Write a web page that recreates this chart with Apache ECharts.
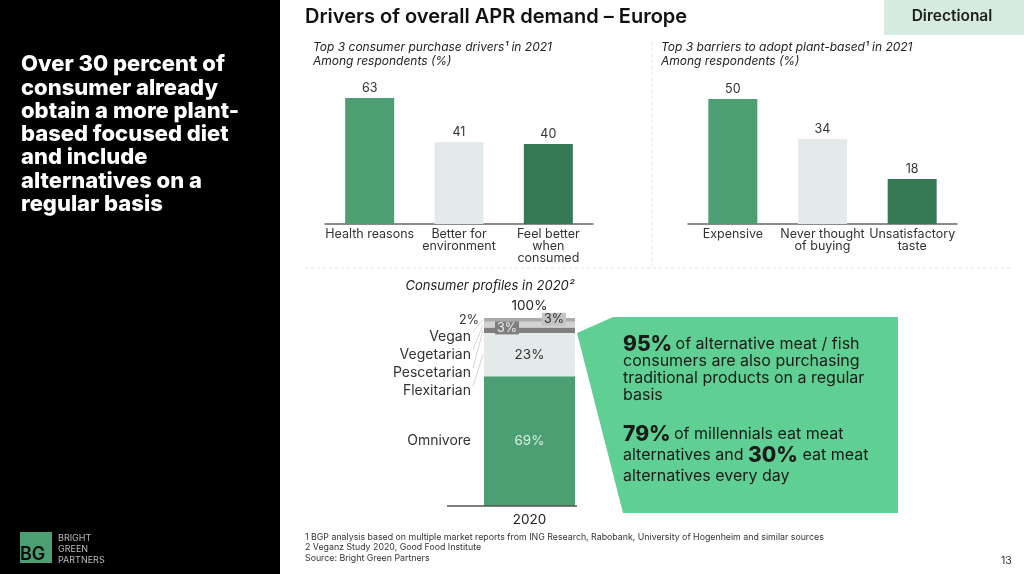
<!DOCTYPE html>
<html>
<head>
<meta charset="utf-8">
<script src="https://cdn.jsdelivr.net/npm/echarts@6/dist/echarts.min.js"></script>
<style>
html,body{margin:0;padding:0;background:#fff;}
#c{width:1024px;height:574px;}
</style>
</head>
<body>
<div id="c"></div>
<script>
// ---- data ----
const driverCats = ['Health reasons', 'Better for\nenvironment', 'Feel better\nwhen\nconsumed'];
const driverVals = [63, 41, 40];
const barrierCats = ['Expensive', 'Never thought\nof buying', 'Unsatisfactory\ntaste'];
const barrierVals = [50, 34, 18];
const profileYears = ['2020'];
const profileNames = ['Omnivore', 'Flexitarian', 'Pescetarian', 'Vegetarian', 'Vegan'];
const profileVals = [69, 23, 3, 3, 2];

const barColors = ['#4c9f72', '#e4e9e9', '#367a55'];
const profileColors = ['#4c9f72', '#e4e9e9', '#7f7f7f', '#d2d2d2', '#ababab'];
const FONT = 'Inter, "Noto Sans", sans-serif';

const chart = echarts.init(document.getElementById('c'), null, {renderer: 'canvas'});

function catAxis(idx, data) {
  return {
    type: 'category', gridIndex: idx, data: data,
    axisLine: {lineStyle: {color: '#666', width: 1.5}},
    axisTick: {show: false},
    axisLabel: {interval: 0, color: '#333', fontSize: 12.5, lineHeight: 12, margin: 4, fontFamily: FONT}
  };
}
function barSeries(idx, vals) {
  return {
    type: 'bar', xAxisIndex: idx, yAxisIndex: idx, data: vals, barWidth: 49,
    itemStyle: {color: p => barColors[p.dataIndex]},
    label: {show: true, position: 'top', distance: 3, color: '#333', fontSize: 12.5, fontFamily: FONT}
  };
}

const profileSeries = profileNames.map((n, i) => {
  const s = {
    type: 'bar', name: n, stack: 'p', xAxisIndex: 2, yAxisIndex: 2,
    data: [profileVals[i]], barWidth: '100%',
    itemStyle: {color: profileColors[i]},
    label: {show: true, formatter: '{c}%', fontFamily: FONT, fontSize: 13.5}
  };
  if (i === 0) Object.assign(s.label, {position: 'inside', color: '#d6f0e0'});
  if (i === 1) Object.assign(s.label, {position: 'inside', color: '#333'});
  if (i === 2) Object.assign(s.label, {position: [11, -6], align: 'left', verticalAlign: 'top', color: '#eee', backgroundColor: '#7f7f7f', padding: [0, 2, 0, 2], fontSize: 12.5});
  if (i === 3) Object.assign(s.label, {position: [58, -9], align: 'left', verticalAlign: 'top', color: '#333', backgroundColor: '#c4c4c4', padding: [0, 2, 0, 2], fontSize: 12.5});
  if (i === 4) Object.assign(s.label, {position: 'left', distance: 5, color: '#333', fontSize: 12.5});
  return s;
});

const total = profileVals.reduce((a, b) => a + b, 0);

const leftText = 'Over 30 percent of\nconsumer already\nobtain a more plant-\nbased focused diet\nand include\nalternatives on a\nregular basis';

function baseGraphics(extra) {
  return [
    {type: 'rect', shape: {x: 0, y: 0, width: 280, height: 574}, style: {fill: '#000'}, z: 0},
    {type: 'text', x: 21, y: 53, style: {text: leftText, fill: '#fff', font: '800 22px ' + FONT, lineHeight: 23.3}},
    {type: 'rect', shape: {x: 20, y: 532, width: 32, height: 31}, style: {fill: '#4c9f72'}},
    {type: 'text', x: 20, y: 546, style: {text: 'BG', fill: '#0b0b0b', font: '600 18px ' + FONT}},
    {type: 'text', x: 58, y: 533, style: {text: 'BRIGHT\nGREEN\nPARTNERS', fill: '#bbb', font: '9px ' + FONT, lineHeight: 10.8}},
    {type: 'text', x: 305, y: 7, style: {text: 'Drivers of overall APR demand \u2013 Europe', fill: '#111', font: '600 20px ' + FONT}},
    {type: 'rect', shape: {x: 884, y: 0, width: 140, height: 35}, style: {fill: '#d5ebdf'}},
    {type: 'text', x: 952, y: 16, style: {text: 'Directional', fill: '#1e1e1e', font: '600 15.5px ' + FONT, align: 'center', verticalAlign: 'middle'}},
    {type: 'text', x: 313, y: 40, style: {text: 'Top 3 consumer purchase drivers\u00b9 in 2021\nAmong respondents (%)', fill: '#222', font: 'italic 12px ' + FONT, lineHeight: 14}},
    {type: 'text', x: 661, y: 40, style: {text: 'Top 3 barriers to adopt plant-based\u00b9 in 2021\nAmong respondents (%)', fill: '#222', font: 'italic 12px ' + FONT, lineHeight: 14}},
    {type: 'line', shape: {x1: 652, y1: 42, x2: 652, y2: 266}, style: {stroke: '#d3e6db', lineWidth: 1, lineDash: [3, 3]}},
    {type: 'line', shape: {x1: 305, y1: 268, x2: 1012, y2: 268}, style: {stroke: '#d3e6db', lineWidth: 1, lineDash: [3, 3]}},
    {type: 'text', x: 490, y: 286, style: {text: 'Consumer profiles in 2020\u00b2', fill: '#222', font: 'italic 13px ' + FONT, align: 'center', verticalAlign: 'middle'}},
    {type: 'line', shape: {x1: 447, y1: 506, x2: 577, y2: 506}, style: {stroke: '#555', lineWidth: 1.5}, z: 10},
    {type: 'polygon', shape: {points: [[577, 333], [613, 317], [898, 317], [898, 513], [623, 513]]}, style: {fill: '#60cf93'}},
    {type: 'text', x: 623, y: 336, style: {
      text: '{b|95%} {n|of alternative meat / fish}\n{n|consumers are also purchasing}\n{n|traditional products on a regular}\n{n|basis}',
      rich: {b: {font: '800 21px ' + FONT, fill: '#1a1a1a', lineHeight: 17}, n: {font: '16px ' + FONT, fill: '#1a1a1a', lineHeight: 17}}}},
    {type: 'text', x: 623, y: 424, style: {
      text: '{b|79%} {n|of millennials eat meat}\n{n|alternatives and }{b|30%}{n| eat meat}\n{n|alternatives every day}',
      rich: {b: {font: '800 21px ' + FONT, fill: '#1a1a1a', lineHeight: 21}, n: {font: '16px ' + FONT, fill: '#1a1a1a', lineHeight: 21}}}},
    {type: 'text', x: 305, y: 532, style: {text: '1 BGP analysis based on multiple market reports from ING Research, Rabobank, University of Hogenheim and similar sources\n2 Veganz Study 2020, Good Food Institute\nSource: Bright Green Partners', fill: '#333', font: '8.8px ' + FONT, lineHeight: 10.5}},
    {type: 'text', x: 1001, y: 555, style: {text: '13', fill: '#333', font: '10.5px ' + FONT}}
  ].concat(extra || []);
}

chart.setOption({
  animation: false,
  grid: [
    {left: 325, top: 84, width: 268, height: 140},
    {left: 688, top: 84, width: 269, height: 140},
    {left: 484, top: 318, width: 91, height: 188}
  ],
  xAxis: [
    catAxis(0, driverCats),
    catAxis(1, barrierCats),
    {type: 'category', gridIndex: 2, data: profileYears, axisLine: {show: false}, axisTick: {show: false},
     axisLabel: {color: '#222', fontSize: 13.5, margin: 7, fontFamily: FONT}}
  ],
  yAxis: [
    {type: 'value', gridIndex: 0, min: 0, max: 70, show: false},
    {type: 'value', gridIndex: 1, min: 0, max: 56, show: false},
    {type: 'value', gridIndex: 2, min: 0, max: 100, show: false}
  ],
  series: [barSeries(0, driverVals), barSeries(1, barrierVals)].concat(profileSeries),
  graphic: baseGraphics()
});

// name labels and leader lines for stacked profile bar, positioned from the library's scale
const nameY = {Omnivore: 441, Flexitarian: 391, Pescetarian: 373, Vegetarian: 355, Vegan: 337};
let cum = 0;
const extra = [];
const topPx = chart.convertToPixel({xAxisIndex: 2, yAxisIndex: 2}, [0, total]);
extra.push({type: 'text', x: topPx[0], y: topPx[1] - 12, style: {text: total + '%', fill: '#222', font: '13.5px ' + FONT, align: 'center', verticalAlign: 'middle'}});
profileNames.forEach((n, i) => {
  const mid = cum + profileVals[i] / 2;
  cum += profileVals[i];
  const p = chart.convertToPixel({xAxisIndex: 2, yAxisIndex: 2}, [0, mid]);
  const ly = i === 0 ? p[1] : nameY[n];
  extra.push({type: 'text', x: 471, y: ly, style: {text: n, fill: '#333', font: '14px ' + FONT, align: 'right', verticalAlign: 'middle'}});
  if (i > 0) {
    extra.push({type: 'line', shape: {x1: 473, y1: ly - 5, x2: 483, y2: p[1]}, style: {stroke: '#c8c8c8', lineWidth: 0.8}});
  }
});
chart.setOption({graphic: baseGraphics(extra)});
</script>
</body>
</html>
